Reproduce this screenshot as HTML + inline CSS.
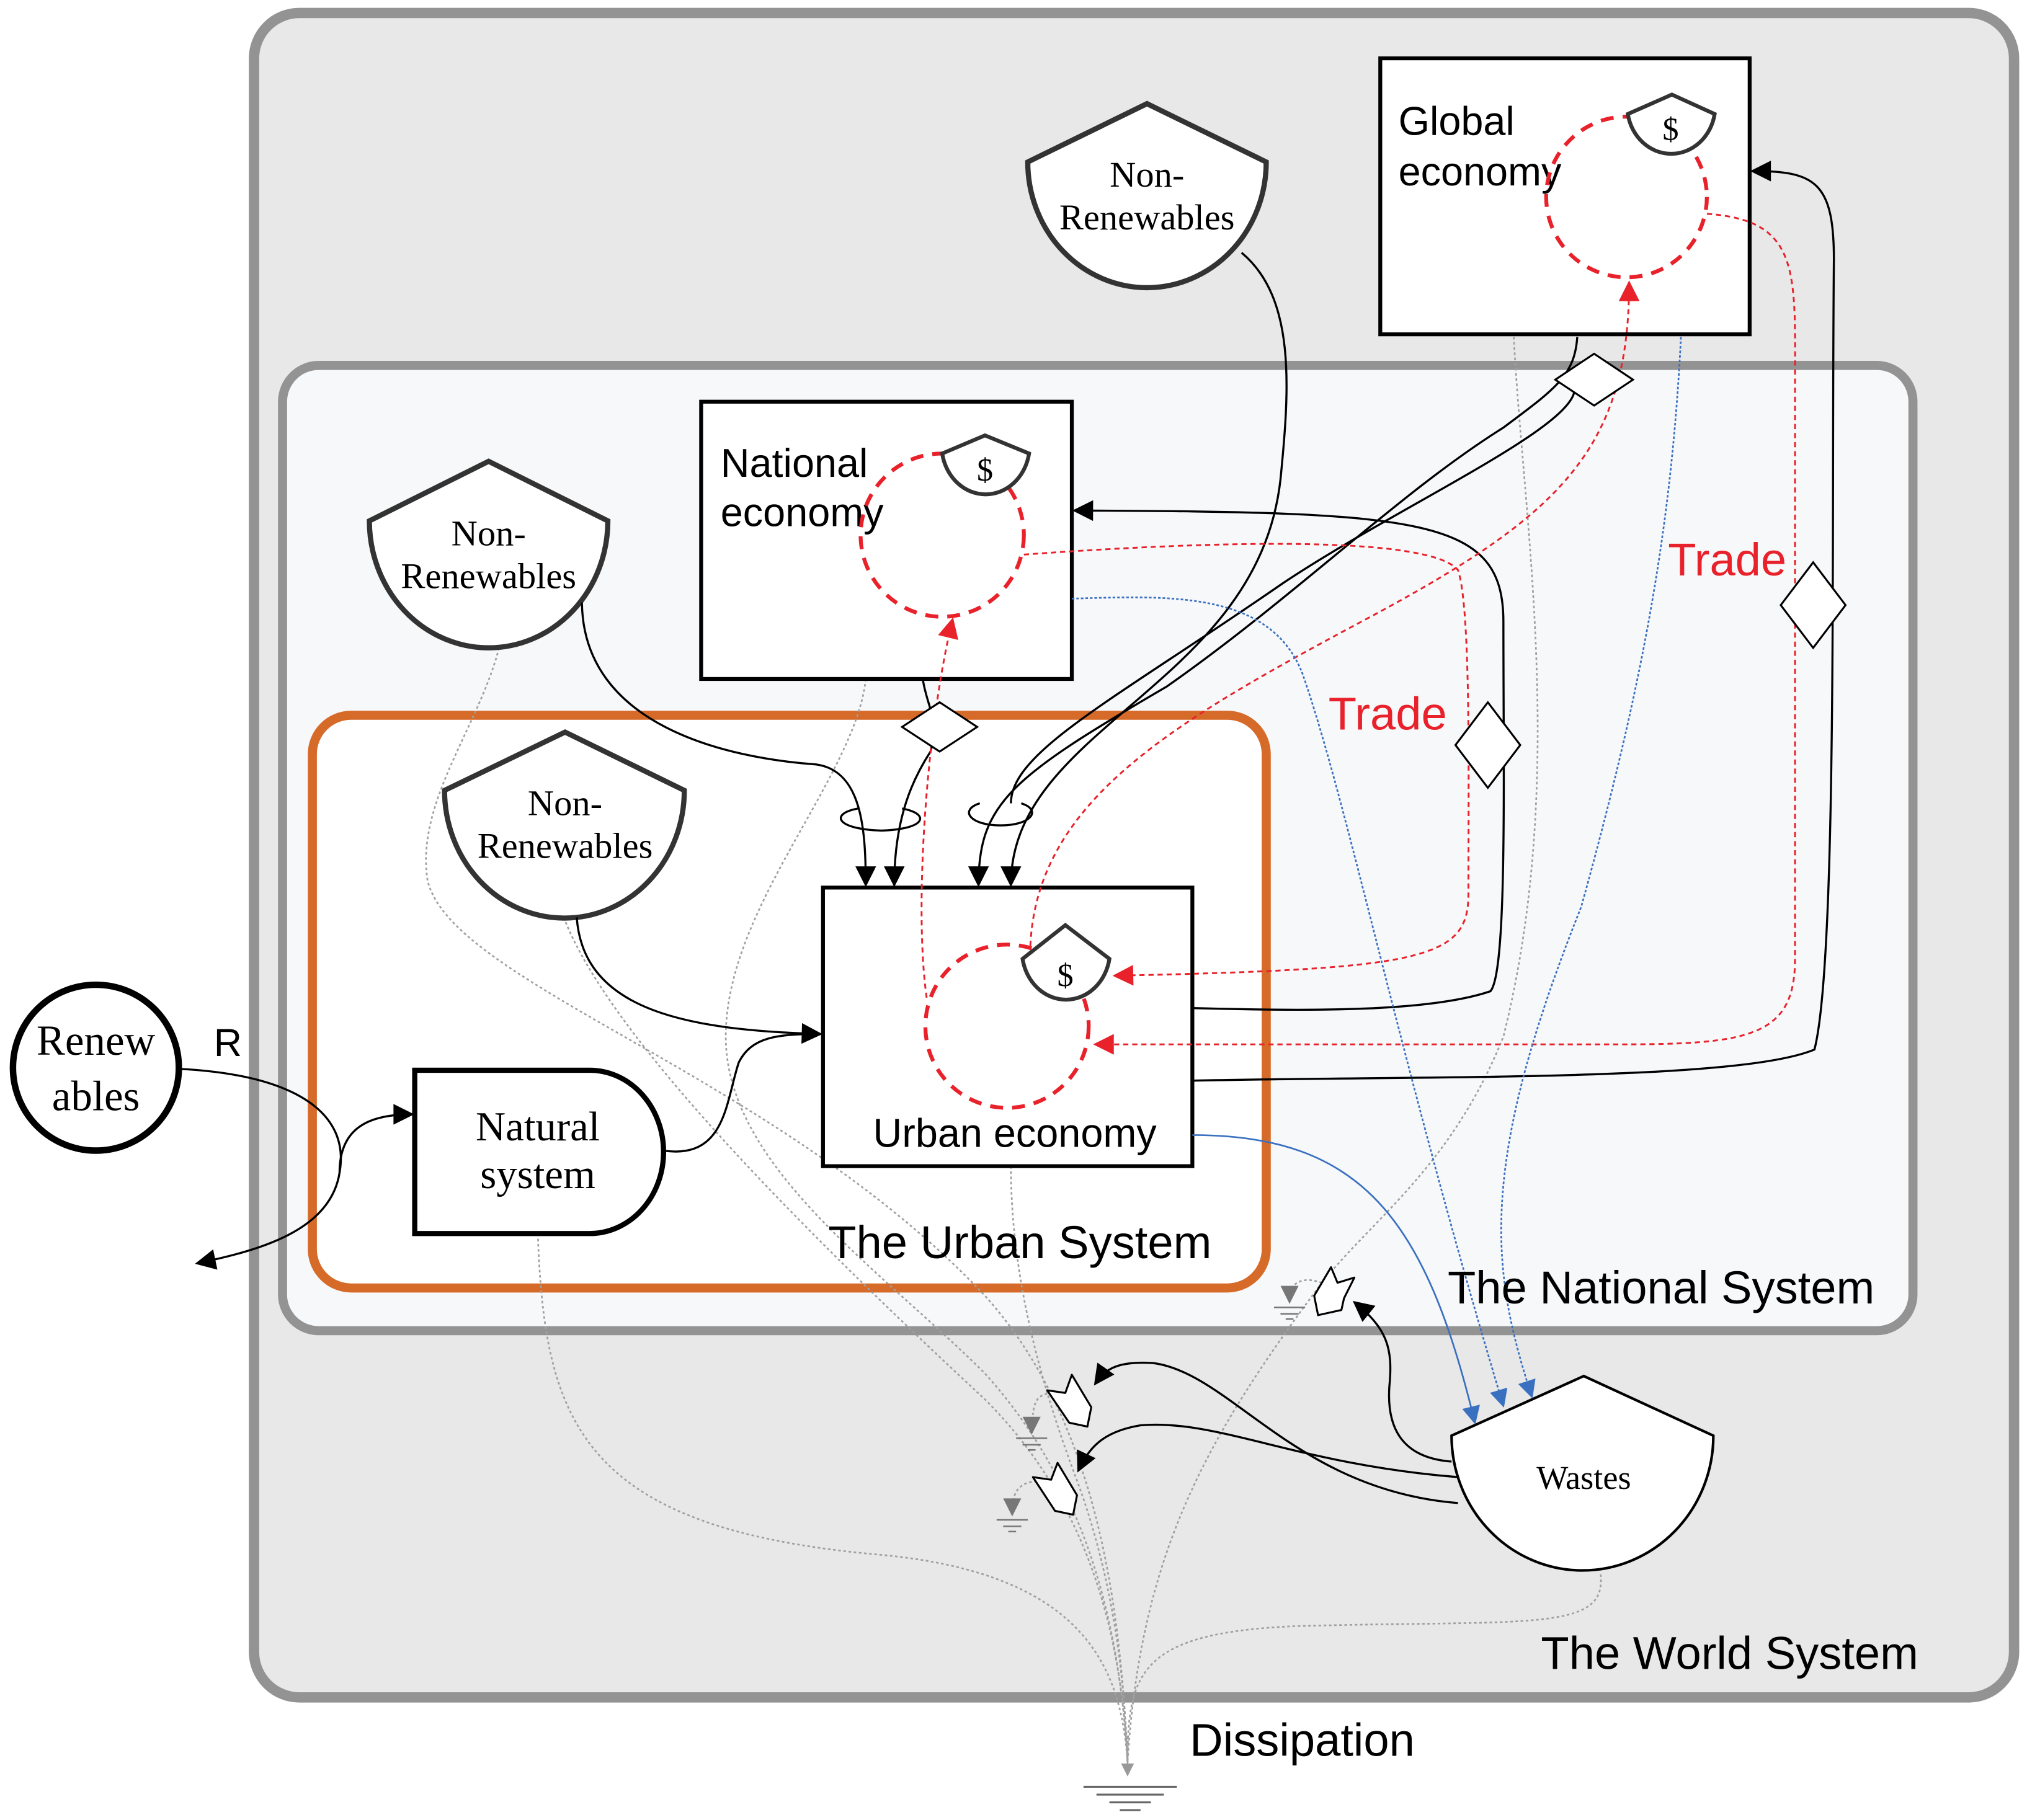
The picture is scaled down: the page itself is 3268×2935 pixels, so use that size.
<!DOCTYPE html>
<html><head><meta charset="utf-8"><style>
html,body{margin:0;padding:0;background:#fff;}
svg{display:block;}
.ss{font-family:"Liberation Sans",sans-serif;}
.sf{font-family:"Liberation Serif",serif;}
</style></head><body>
<svg width="3268" height="2935" viewBox="0 0 1564 1404.6" xmlns="http://www.w3.org/2000/svg">
<defs>
<marker id="abL" viewBox="0 0 10 10" refX="9" refY="5" markerWidth="22" markerHeight="16" markerUnits="userSpaceOnUse" orient="auto"><path d="M0,0 L10,5 L0,10 Z" fill="#000"/></marker>
<marker id="ar" viewBox="0 0 10 10" refX="9" refY="5" markerWidth="24" markerHeight="16" markerUnits="userSpaceOnUse" orient="auto"><path d="M0,0 L10,5 L0,10 Z" fill="#e8212a"/></marker>
<marker id="abl" viewBox="0 0 10 10" refX="9" refY="5" markerWidth="20" markerHeight="14" markerUnits="userSpaceOnUse" orient="auto"><path d="M0,0 L10,5 L0,10 Z" fill="#3a70c0"/></marker>
<marker id="ag" viewBox="0 0 10 10" refX="9" refY="5" markerWidth="14" markerHeight="10" markerUnits="userSpaceOnUse" orient="auto"><path d="M0,0 L10,5 L0,10 Z" fill="#999"/></marker>
</defs>
<rect width="1564" height="1404.6" fill="#fff"/>
<rect x="196" y="10" width="1358" height="1300" rx="35" fill="#e8e8e8" stroke="#939393" stroke-width="8"/>
<rect x="218" y="282" width="1258" height="745" rx="28" fill="#f7f8fa" stroke="#939393" stroke-width="7"/>
<rect x="241" y="552" width="736" height="442" rx="30" fill="#fff" stroke="#d66a28" stroke-width="7"/>

<g fill="none" stroke="#a0a0a0" stroke-width="1.3" stroke-dasharray="2,2">
<path d="M385,500 C370,560 320,620 330,680 C350,760 600,830 760,1000 C850,1100 865,1250 870,1360"/>
<path d="M435,708 C470,800 620,950 760,1080 C840,1160 865,1260 870,1360"/>
<path d="M668,524 C660,600 560,700 560,800 C560,900 680,980 760,1060 C850,1160 865,1280 870,1360"/>
<path d="M780,900 C780,980 800,1060 830,1140 C860,1220 868,1300 870,1360"/>
<path d="M415,952 C420,1100 450,1180 680,1200 C840,1215 865,1290 870,1360"/>
<path d="M1168,260 C1175,400 1210,600 1160,800 C1120,900 1060,940 1020,990 C930,1110 880,1200 870,1360"/>
<path d="M1235,1215 C1240,1260 1180,1250 1000,1255 C880,1260 870,1290 870,1360"/>
<path d="M1020,990 C1005,985 1000,990 995,995"/>
<path d="M812,1075 C800,1076 798,1082 797,1092"/>
<path d="M800,1143 C788,1144 783,1150 782,1158"/>
<path d="M870,1340 L870,1370" marker-end="url(#ag)"/>
</g>

<rect x="1065" y="45" width="285" height="213" fill="#fff" stroke="#000" stroke-width="3"/>
<text x="1079" y="104" class="ss" font-size="31">Global</text>
<text x="1079" y="143" class="ss" font-size="31">economy</text>
<circle cx="1255" cy="152" r="62" fill="none" stroke="#e8212a" stroke-width="3" stroke-dasharray="10,7"/>
<path d="M1256,88 L1290,73 L1323,88 A34,37 0 0 1 1256,88 Z" fill="#fff" stroke="#333" stroke-width="3"/>
<text x="1289" y="108" class="sf" font-size="25" text-anchor="middle">$</text>

<rect x="541" y="310" width="286" height="214" fill="#fff" stroke="#000" stroke-width="3"/>
<text x="556" y="368" class="ss" font-size="31">National</text>
<text x="556" y="406" class="ss" font-size="31">economy</text>
<circle cx="727" cy="413" r="63" fill="none" stroke="#e8212a" stroke-width="3" stroke-dasharray="10,7"/>
<path d="M727,350 L760,336 L794,350 A34,38 0 0 1 727,350 Z" fill="#fff" stroke="#333" stroke-width="3"/>
<text x="760" y="371" class="sf" font-size="25" text-anchor="middle">$</text>

<rect x="635" y="685" width="285" height="215" fill="#fff" stroke="#000" stroke-width="3"/>
<text x="783" y="885" class="ss" font-size="31" text-anchor="middle">Urban economy</text>
<circle cx="777" cy="792" r="63" fill="none" stroke="#e8212a" stroke-width="3" stroke-dasharray="10,7"/>
<path d="M789,740 L822,714 L856,740 A34,38 0 0 1 789,740 Z" fill="#fff" stroke="#333" stroke-width="3"/>
<text x="822" y="761" class="sf" font-size="25" text-anchor="middle">$</text>

<g fill="#fff" stroke="#333" stroke-width="4">
<path d="M793,125 L885,80 L977,125 A92,97 0 0 1 793,125 Z"/>
<path d="M285,402 L377,356 L469,402 A92,98 0 0 1 285,402 Z"/>
<path d="M343,610 L436,565 L528,610 A92,98 0 0 1 343,610 Z"/>
</g>
<g class="sf" font-size="28" text-anchor="middle">
<text x="885" y="144">Non-</text><text x="885" y="177">Renewables</text>
<text x="377" y="421">Non-</text><text x="377" y="454">Renewables</text>
<text x="436" y="629">Non-</text><text x="436" y="662">Renewables</text>
</g>

<circle cx="74" cy="824" r="64" fill="#fff" stroke="#000" stroke-width="5"/>
<text x="74" y="814" class="sf" font-size="33" text-anchor="middle">Renew</text>
<text x="74" y="857" class="sf" font-size="33" text-anchor="middle">ables</text>
<text x="165" y="815" class="ss" font-size="30">R</text>

<path d="M320,826 H455 A57,63 0 0 1 455,952 H320 Z" fill="#fff" stroke="#000" stroke-width="4"/>
<text x="415" y="880" class="sf" font-size="32" text-anchor="middle">Natural</text>
<text x="415" y="917" class="sf" font-size="32" text-anchor="middle">system</text>

<path d="M1120,1108 L1222,1062 L1322,1108 A101,104 0 0 1 1120,1108 Z" fill="#fff" stroke="#000" stroke-width="2"/>
<text x="1222" y="1149" class="sf" font-size="26" text-anchor="middle">Wastes</text>

<g fill="none" stroke="#000" stroke-width="1.6">
<path d="M140,825 C230,830 270,860 262,905 C255,950 200,965 152,975" marker-end="url(#abL)"/>
<path d="M262,905 C262,870 285,860 318,860" marker-end="url(#abL)"/>
<path d="M958,195 C1000,230 995,300 988,370 C970,530 780,560 780,683" marker-end="url(#abL)"/>
<path d="M1217,260 C1215,290 1200,300 1160,330 C1080,380 1000,460 900,530 C780,600 755,620 755,683" marker-end="url(#abL)"/>
<path d="M1215,300 C1215,330 1080,390 990,450 C860,540 780,580 780,620"/>
<path d="M449,465 C450,560 560,585 630,590 C665,595 668,640 668,683" marker-end="url(#abL)"/>
<path d="M712,524 C715,545 725,555 718,580 C705,600 690,630 690,683" marker-end="url(#abL)"/>
<path d="M445,708 C450,780 530,795 633,798" marker-end="url(#abL)"/>
<path d="M512,888 C560,895 560,850 570,820 C580,800 600,798 633,798"/>
<path d="M920,778 C1000,780 1100,782 1150,765 C1163,750 1160,600 1160,480 C1160,400 1100,395 829,394" marker-end="url(#abL)"/>
<path d="M920,834 C1100,830 1340,835 1400,810 C1418,740 1413,400 1415,200 C1415,140 1400,132 1352,132" marker-end="url(#abL)"/>
<path d="M1125,1160 C1000,1150 950,1060 890,1052 C860,1050 852,1058 845,1068" marker-end="url(#abL)"/>
<path d="M1125,1140 C1000,1130 940,1095 880,1100 C850,1105 840,1118 832,1135" marker-end="url(#abL)"/>
<path d="M1120,1128 C1080,1125 1070,1100 1072,1070 C1075,1040 1070,1025 1045,1005" marker-end="url(#abL)"/>
<path d="M662,624 C640,628 645,640 680,641 C715,640 718,628 696,624"/>
<path d="M756,620 C740,625 748,637 772,637 C796,637 804,625 788,620"/>
</g>

<g fill="none" stroke="#e8212a" stroke-width="1.4" stroke-dasharray="4,3">
<path d="M1317,165 C1390,170 1385,210 1385,300 L1385,740 C1385,800 1350,806 1250,806 L845,806" marker-end="url(#ar)"/>
<path d="M790,428 C900,420 1100,410 1125,440 C1135,470 1133,600 1133,690 C1133,740 1100,748 860,753" marker-end="url(#ar)"/>
<path d="M795,730 C800,620 900,560 1050,480 C1200,400 1257,350 1257,218" marker-end="url(#ar)"/>
<path d="M715,770 C705,700 715,560 735,478" marker-end="url(#ar)"/>
</g>

<g fill="none" stroke="#3a70c0" stroke-width="1.3">
<path d="M827,462 C900,460 980,455 1005,520 C1040,620 1080,820 1160,1085" stroke-dasharray="2,1.5" marker-end="url(#abl)"/>
<path d="M1297,260 C1290,400 1270,520 1220,700 C1140,900 1150,980 1182,1078" stroke-dasharray="2,1.5" marker-end="url(#abl)"/>
<path d="M920,876 C1050,876 1100,940 1138,1098" marker-end="url(#abl)"/>
</g>

<g fill="#fff" stroke="#000" stroke-width="1.5">
<path d="M1200,293 L1230,273 L1260,293 L1230,313 Z"/>
<path d="M696,561 L725,542 L754,561 L725,580 Z"/>
<path d="M1148,542 L1173,575 L1148,608 L1123,575 Z"/>
<path d="M1399,434 L1424,467 L1399,500 L1374,467 Z"/>
</g>

<g fill="#fff" stroke="#000" stroke-width="1.5" stroke-linejoin="round">
<polygon points="1014,1000 1027,978 1032,990 1045,986 1037,1002 1035,1011 1017,1015"/>
<polygon points="808,1073 822,1075 827,1061 842,1086 839,1101 825,1098"/>
<polygon points="797,1140 811,1142 816,1129 831,1154 828,1169 814,1166"/>
</g>

<g fill="#777" stroke="#777" stroke-width="1.2">
<path d="M989,993 L1001,993 L995,1005 Z"/><line x1="983" y1="1009" x2="1007" y2="1009"/><line x1="988" y1="1014" x2="1002" y2="1014"/><line x1="992" y1="1018" x2="998" y2="1018"/>
<path d="M790,1094 L802,1094 L796,1106 Z"/><line x1="784" y1="1110" x2="808" y2="1110"/><line x1="789" y1="1115" x2="803" y2="1115"/><line x1="793" y1="1119" x2="799" y2="1119"/>
<path d="M775,1157 L787,1157 L781,1169 Z"/><line x1="769" y1="1173" x2="793" y2="1173"/><line x1="774" y1="1178" x2="788" y2="1178"/><line x1="778" y1="1182" x2="784" y2="1182"/>
</g>
<g stroke="#666" stroke-width="1.5">
<line x1="836" y1="1379" x2="908" y2="1379"/>
<line x1="846" y1="1385" x2="898" y2="1385"/>
<line x1="856" y1="1391" x2="888" y2="1391"/>
<line x1="864" y1="1397" x2="880" y2="1397"/>
</g>

<g class="ss" font-size="35.5">
<text x="1287" y="444" fill="#e8212a">Trade</text>
<text x="1025" y="563" fill="#e8212a">Trade</text>
<text x="639" y="971">The Urban System</text>
<text x="1117" y="1006">The National System</text>
<text x="1189" y="1288">The World System</text>
<text x="918" y="1355">Dissipation</text>
</g>
</svg>
</body></html>
